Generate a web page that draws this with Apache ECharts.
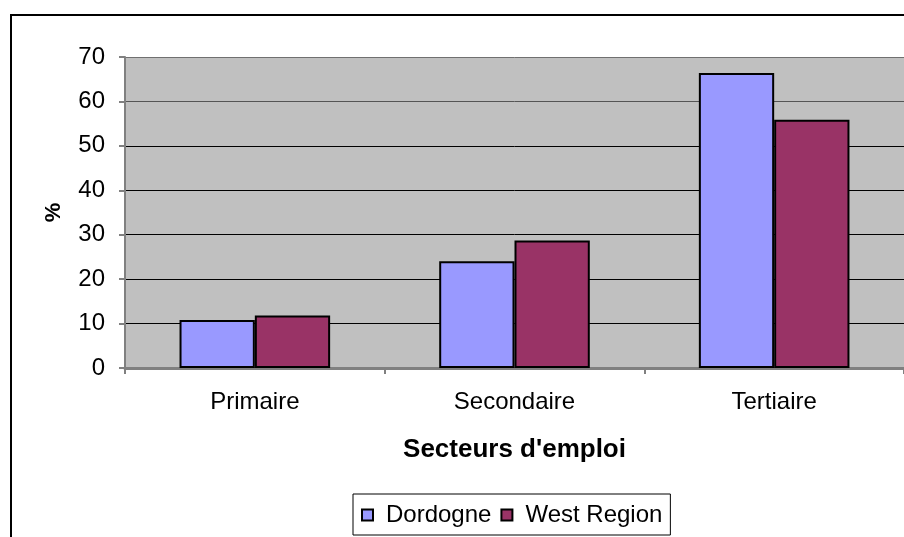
<!DOCTYPE html>
<html><head><meta charset="utf-8">
<script src="https://cdn.jsdelivr.net/npm/echarts@6/dist/echarts.min.js"></script>
<style>html,body{margin:0;padding:0;background:#fff}#c{width:904px;height:537px}</style>
</head><body><div id="c"></div>
<script>
const categories = ['Primaire', 'Secondaire', 'Tertiaire'];
const dordogne = [10.8, 24.0, 66.4];
const westRegion = [11.8, 28.7, 55.9];
const yTicks = [0, 10, 20, 30, 40, 50, 60, 70];

const chart = echarts.init(document.getElementById('c'), null, {renderer: 'canvas'});
const font = 'Arial, "Liberation Sans", sans-serif';
chart.setOption({
  animation: false,
  graphic: [{
    type: 'rect', left: 10, top: 14, z: -10,
    shape: {x: 0, y: 0, width: 1000, height: 1000},
    style: {fill: '#fff', stroke: '#000', lineWidth: 2}
  }],
  grid: {left: 125, top: 57, width: 783, height: 311, backgroundColor: '#C0C0C0', show: true, borderWidth: 0},
  legend: {
    left: 353, top: 494, padding: [9, 8, 8, 8],
    borderColor: '#000', borderWidth: 1, backgroundColor: '#fff',
    itemWidth: 11, itemHeight: 11, itemGap: 9,
    icon: 'rect',
    textStyle: {fontFamily: font, fontSize: 24, color: '#000', padding: [0, 0, 0, 8]},
    data: ['Dordogne', 'West Region']
  },
  xAxis: {
    type: 'category', data: categories,
    name: "Secteurs d'emploi", nameLocation: 'middle', nameGap: 69,
    nameTextStyle: {fontFamily: font, fontSize: 26, fontWeight: 'bold', color: '#000'},
    axisLine: {lineStyle: {color: '#808080', width: 3}},
    axisTick: {show: true, length: 6, lineStyle: {color: '#808080', width: 2}},
    axisLabel: {fontFamily: font, fontSize: 24, color: '#000', margin: 22}
  },
  yAxis: {
    type: 'value', min: yTicks[0], max: yTicks[yTicks.length - 1], interval: 10,
    name: '%', nameLocation: 'middle', nameGap: 60, nameRotate: 90,
    nameTextStyle: {fontFamily: font, fontSize: 22, fontWeight: 'bold', color: '#000'},
    axisLine: {show: true, lineStyle: {color: '#808080', width: 2}},
    axisTick: {show: true, length: 6, lineStyle: {color: '#808080', width: 2}},
    axisLabel: {fontFamily: font, fontSize: 24, color: '#000', margin: 20},
    splitLine: {show: true, lineStyle: {color: ['#000', '#000', '#000', '#000', '#000', '#000', '#555', '#707070'], width: 1}}
  },
  series: [
    {name: 'Dordogne', type: 'bar', data: dordogne, barGap: '0%', barCategoryGap: '42%',
     itemStyle: {color: '#9999FF', borderColor: '#000', borderWidth: 2}},
    {name: 'West Region', type: 'bar', data: westRegion, barGap: '0%', barCategoryGap: '42%',
     itemStyle: {color: '#993366', borderColor: '#000', borderWidth: 2}}
  ]
});
</script></body></html>
